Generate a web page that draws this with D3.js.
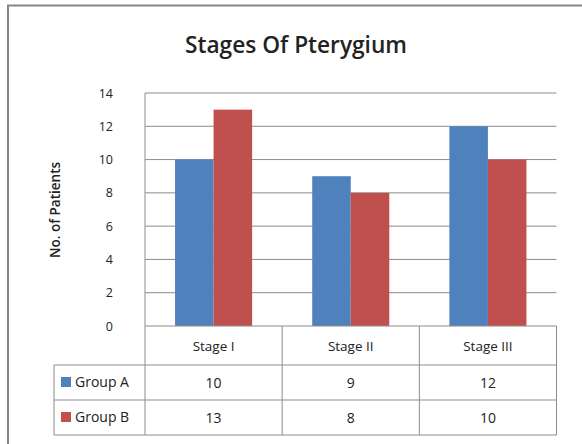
<!DOCTYPE html>
<html>
<head>
<meta charset="utf-8">
<script src="https://cdn.jsdelivr.net/npm/d3@7"></script>
<style>
  body { margin: 0; background: #fff; }
  text { font-family: "Open Sans", Lato, sans-serif; fill: #222; }
</style>
</head>
<body>
<svg id="chart" width="582" height="444"></svg>
<script>
var categories = ["Stage I", "Stage II", "Stage III"];
var groups = ["Group A", "Group B"];
var groupA = [10, 9, 12];
var groupB = [13, 8, 10];
var yTicks = [0, 2, 4, 6, 8, 10, 12, 14];
var colors = ["#4F81BD", "#C0504D"];

var svg = d3.select("#chart");
var plotL = 145, plotR = 556.5, plotT = 93, plotB = 326;
var rowA = 365, rowB = 400, tblB = 435, legL = 54;
var gridCol = "#8c8c8c";

// outer frame (only left / top visible)
svg.append("rect")
    .attr("x", 8).attr("y", 5.5)
    .attr("width", 600).attr("height", 460)
    .attr("fill", "none")
    .attr("stroke", "#868686")
    .attr("stroke-width", 2);

// title
svg.append("text")
    .attr("x", 296).attr("y", 53)
    .attr("text-anchor", "middle")
    .style("font-size", "24px")
    .style("font-weight", "600")
    .attr("textLength", 222)
    .attr("lengthAdjust", "spacingAndGlyphs")
    .text("Stages Of Pterygium");

var x = d3.scaleBand().domain(categories).range([plotL, plotR]);
var x1 = d3.scaleBand().domain(groups).range([0, x.bandwidth()]).paddingOuter(0.78);
var y = d3.scaleLinear().domain([0, 14]).range([plotB, plotT]);

// gridlines
svg.append("g").selectAll("line")
    .data(yTicks.filter(function (d) { return d > 0; }))
    .join("line")
    .attr("x1", plotL).attr("x2", plotR)
    .attr("y1", function (d) { return y(d); })
    .attr("y2", function (d) { return y(d); })
    .attr("stroke", gridCol);

// y tick labels
svg.append("g").selectAll("text")
    .data(yTicks)
    .join("text")
    .attr("x", 113)
    .attr("y", function (d) { return y(d) + 4.5; })
    .attr("text-anchor", "end")
    .style("font-size", "12.5px")
    .text(function (d) { return d; });

// y axis title
svg.append("text")
    .attr("transform", "translate(60,210) rotate(-90)")
    .attr("text-anchor", "middle")
    .style("font-size", "13.5px")
    .style("font-weight", "600")
    .text("No. of Patients");

// bars
var series = [groupA, groupB];
series.forEach(function (vals, gi) {
    svg.append("g").selectAll("rect")
        .data(vals)
        .join("rect")
        .attr("x", function (d, i) { return x(categories[i]) + x1(groups[gi]); })
        .attr("y", function (d) { return y(d); })
        .attr("width", x1.bandwidth())
        .attr("height", function (d) { return plotB - y(d); })
        .attr("fill", colors[gi]);
});

// table lines
var tbl = svg.append("g").attr("stroke", gridCol).attr("fill", "none");
tbl.append("line").attr("x1", plotL).attr("x2", plotL).attr("y1", plotT).attr("y2", tblB);
tbl.append("line").attr("x1", plotL).attr("x2", plotR).attr("y1", plotB).attr("y2", plotB);
tbl.append("line").attr("x1", legL).attr("x2", plotR).attr("y1", rowA).attr("y2", rowA);
tbl.append("line").attr("x1", legL).attr("x2", plotR).attr("y1", rowB).attr("y2", rowB);
tbl.append("line").attr("x1", legL).attr("x2", plotR).attr("y1", tblB).attr("y2", tblB);
tbl.append("line").attr("x1", legL).attr("x2", legL).attr("y1", rowA).attr("y2", tblB);
categories.forEach(function (c) {
    var xr = x(c) + x.bandwidth();
    tbl.append("line").attr("x1", xr).attr("x2", xr).attr("y1", plotB).attr("y2", tblB);
});

// header labels
svg.append("g").selectAll("text")
    .data(categories)
    .join("text")
    .attr("x", function (d) { return x(d) + x.bandwidth() / 2; })
    .attr("y", 351)
    .attr("text-anchor", "middle")
    .style("font-size", "13.5px")
    .text(function (d) { return d; });

// legend cells + values
var rows = [rowA, rowB];
series.forEach(function (vals, gi) {
    var top = rows[gi];
    svg.append("rect")
        .attr("x", 61).attr("y", top + 12)
        .attr("width", 10).attr("height", 10)
        .attr("fill", colors[gi]);
    svg.append("text")
        .attr("x", 75).attr("y", top + 22)
        .style("font-size", "14px")
        .text(groups[gi]);
    svg.append("g").selectAll("text")
        .data(vals)
        .join("text")
        .attr("x", function (d, i) { return x(categories[i]) + x.bandwidth() / 2; })
        .attr("y", top + 23)
        .attr("text-anchor", "middle")
        .style("font-size", "14px")
        .text(function (d) { return d; });
});
</script>
</body>
</html>
